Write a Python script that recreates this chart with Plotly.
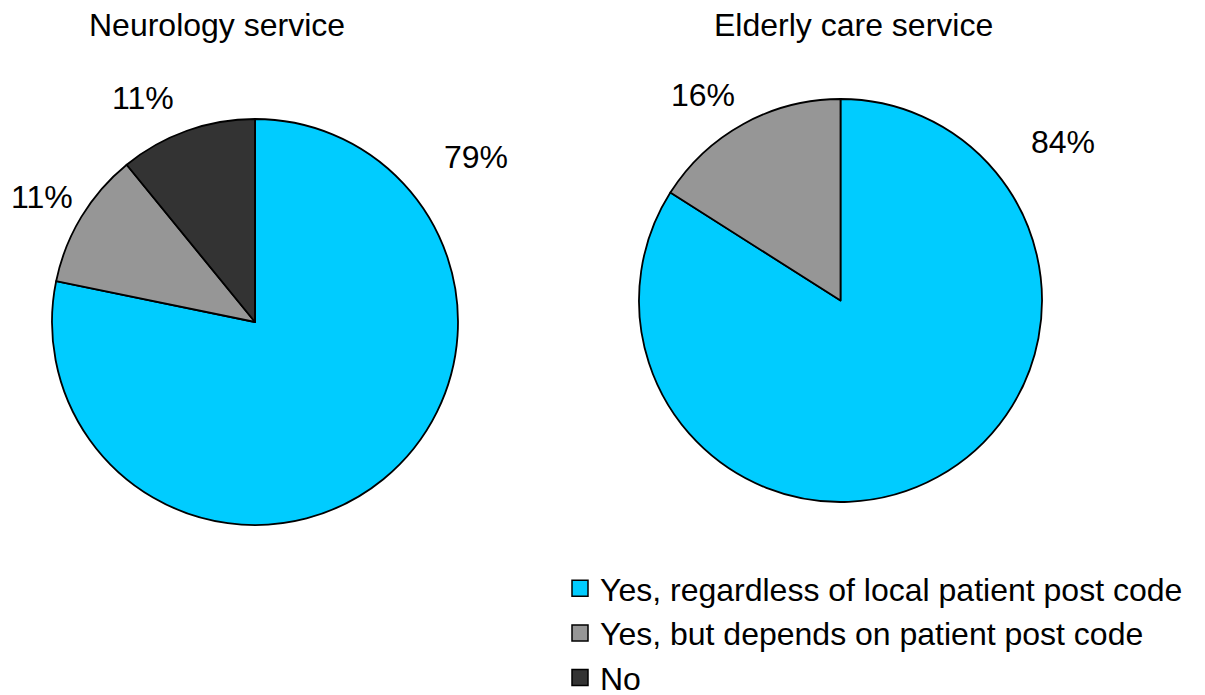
import plotly.graph_objects as go

# Survey answers by service (percent of respondents)
categories = [
    "Yes, regardless of local patient post code",
    "Yes, but depends on patient post code",
    "No",
]
neurology_pct = [79, 11, 11]
elderly_categories = categories[:2]
elderly_pct = [84, 16]

colors = {
    categories[0]: "#00CCFF",
    categories[1]: "#969696",
    categories[2]: "#333333",
}

W, H = 1205, 695
FONT = "Liberation Sans, Arial, Helvetica, sans-serif"
FONT_SIZE = 32


def px(x, y):
    """Pixel position -> paper coordinates."""
    return x / W, 1 - y / H


fig = go.Figure()

# Neurology pie
x0, y1 = px(52, 119)
x1, y0 = px(458, 525)
fig.add_trace(go.Pie(
    labels=categories,
    values=neurology_pct,
    sort=False,
    direction="clockwise",
    rotation=0,
    marker=dict(colors=[colors[c] for c in categories],
                line=dict(color="black", width=1.8)),
    textinfo="none",
    hoverinfo="label+value",
    showlegend=False,
    domain=dict(x=[x0, x1], y=[y0, y1]),
))

# Elderly care pie
x0, y1 = px(639, 99)
x1, y0 = px(1042, 502)
fig.add_trace(go.Pie(
    labels=elderly_categories,
    values=elderly_pct,
    sort=False,
    direction="clockwise",
    rotation=0,
    marker=dict(colors=[colors[c] for c in elderly_categories],
                line=dict(color="black", width=1.8)),
    textinfo="none",
    hoverinfo="label+value",
    showlegend=False,
    domain=dict(x=[x0, x1], y=[y0, y1]),
))

# Legend entries drawn as square swatches
for c in categories:
    fig.add_trace(go.Scatter(
        x=[None], y=[None], mode="markers", name=c,
        marker=dict(symbol="square", size=16, color=colors[c],
                    line=dict(color="black", width=1.5)),
        showlegend=True,
    ))

annotations = []


def label(text, cx, cy):
    ax, ay = px(cx, cy)
    return dict(x=ax, y=ay, xref="paper", yref="paper",
                xanchor="center", yanchor="middle",
                text=text, showarrow=False,
                font=dict(size=FONT_SIZE, color="black", family=FONT))


# Panel titles
annotations.append(label("Neurology service", 217, 25))
annotations.append(label("Elderly care service", 853, 25))

# Percentage labels
neuro_label_pos = [(476, 157), (42, 197), (143, 98)]
elderly_label_pos = [(1063, 142), (703, 95)]
for vals, positions in [(neurology_pct, neuro_label_pos),
                        (elderly_pct, elderly_label_pos)]:
    for v, (cx, cy) in zip(vals, positions):
        annotations.append(label(f"{v}%", cx, cy))

lx, ly = px(560, 561)
fig.update_layout(
    width=W, height=H,
    margin=dict(l=0, r=0, t=0, b=0, autoexpand=False),
    paper_bgcolor="white",
    plot_bgcolor="white",
    font=dict(family=FONT, color="black"),
    xaxis=dict(visible=False),
    yaxis=dict(visible=False),
    annotations=annotations,
    legend=dict(
        x=lx, y=ly, xanchor="left", yanchor="top",
        font=dict(size=FONT_SIZE, color="black", family=FONT),
        bgcolor="rgba(0,0,0,0)",
        tracegroupgap=0,
    ),
)

fig.write_html("out.html")
